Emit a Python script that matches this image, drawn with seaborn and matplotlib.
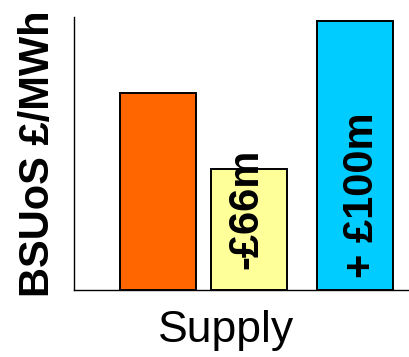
import matplotlib
matplotlib.use("Agg")
import matplotlib.pyplot as plt
import seaborn as sns
import pandas as pd

# ---- data ----
bars = ["Current", "Reduced", "Increased"]
values = [1.44, 0.89, 1.97]
annotations = ["", "-£66m", "+ £100m"]
colors = ["#FF6600", "#FFFF99", "#00CCFF"]

# layout (positions of bars along the x axis)
positions = [0.0, 1.0, 2.167]

sns.set_theme(style="white")
plt.rcParams["font.family"] = ["Liberation Sans", "DejaVu Sans"]
plt.rcParams["text.color"] = "black"
plt.rcParams["axes.labelcolor"] = "black"

df = pd.DataFrame({"pos": positions, "bar": bars, "value": values})

fig = plt.figure(figsize=(4.09, 3.57), dpi=100)
ax = fig.add_axes([74 / 409, 67 / 357, 335 / 409, 273 / 357])

sns.barplot(data=df, x="pos", y="value", hue="bar", palette=dict(zip(bars, colors)),
            native_scale=True, dodge=False, width=0.838, edgecolor="black",
            linewidth=1.4, legend=False, ax=ax, saturation=1)

ax.set_xlim(-0.926, 2.767)
ax.set_ylim(0, 2.0)
ax.set_xticks([])
ax.set_yticks([])
for s in ["top", "right"]:
    ax.spines[s].set_visible(False)
for s in ["left", "bottom"]:
    ax.spines[s].set_color("black")
    ax.spines[s].set_linewidth(1.0)

ax.set_ylabel("BSUoS £/MWh", fontsize=30, fontweight="bold", va="center", color="black")
ax.yaxis.set_label_coords(-0.107, 0.5)
ax.set_xlabel("Supply", fontsize=32, va="top", color="black")
ax.xaxis.set_label_coords(0.455, -0.075)

# annotations inside bars
text_y = [0.0, 0.593, 0.696]
text_dx = [0.0, -0.022, 0.079]
for p, t, ty, dx in zip(positions, annotations, text_y, text_dx):
    if t:
        ax.text(p + dx, ty, t, rotation=90, fontsize=30, fontweight="bold",
                ha="center", va="center", color="black")

fig.savefig("out.png", dpi=100)
